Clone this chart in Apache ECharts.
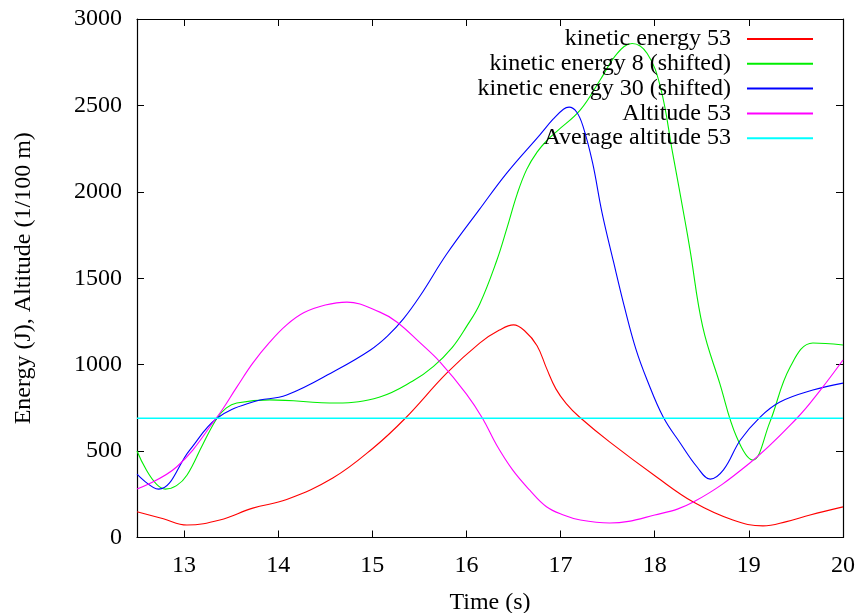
<!DOCTYPE html>
<html>
<head>
<meta charset="utf-8">
<title>Energy and altitude over time</title>
<script src="https://cdn.jsdelivr.net/npm/echarts@6/dist/echarts.min.js"></script>
<style>
  html, body { margin: 0; padding: 0; background: #ffffff; }
  #chart { width: 862px; height: 613px; }
</style>
</head>
<body>
<div id="chart"></div>
<script>
// Tick positions
const xTicks = [13, 14, 15, 16, 17, 18, 19, 20];

// kinetic energy 53
const ke53T = [12.5, 12.78, 13.03, 13.38, 13.73, 14.09, 14.58, 15.01, 15.35, 15.79, 16.14, 16.35, 16.5, 16.62, 16.75, 16.85, 16.95, 17.06, 17.2, 17.52, 18.02, 18.41, 18.83, 19.15, 19.4, 19.65, 20.0];
const ke53V = [149, 108, 72, 101, 170, 220, 344, 518, 690, 951, 1125, 1200, 1230, 1195, 1110, 980, 860, 775, 697, 553, 350, 205, 101, 67, 92, 130, 177];

// kinetic energy 8 (shifted)
const ke8T = [12.5, 12.8, 12.92, 13.03, 13.2, 13.35, 13.45, 13.56, 13.91, 14.62, 15.08, 15.43, 15.65, 15.85, 16.0, 16.14, 16.32, 16.43, 16.54, 16.64, 16.75, 16.86, 16.96, 17.21, 17.42, 17.6, 17.76, 17.92, 18.06, 18.19, 18.32, 18.375, 18.51, 18.69, 18.87, 19.04, 19.22, 19.44, 19.68, 20.0];
const ke8V = [500, 280, 300, 360, 540, 690, 750, 778, 796, 778, 813, 905, 990, 1100, 1220, 1350, 1600, 1790, 1990, 2130, 2230, 2300, 2350, 2474, 2647, 2800, 2858, 2800, 2607, 2225, 1837, 1664, 1218, 893, 581, 448, 663, 988, 1125, 1114];

// kinetic energy 30 (shifted)
const ke30T = [12.5, 12.73, 13.06, 13.35, 13.73, 14.09, 14.62, 14.98, 15.16, 15.33, 15.51, 15.79, 16.14, 16.43, 16.78, 16.92, 17.03, 17.09, 17.17, 17.24, 17.34, 17.44, 17.56, 17.68, 17.8, 17.92, 18.09, 18.27, 18.45, 18.59, 18.73, 18.91, 19.12, 19.33, 19.68, 20.0];
const ke30V = [367, 280, 506, 690, 784, 824, 969, 1085, 1165, 1265, 1400, 1640, 1900, 2110, 2330, 2420, 2478, 2490, 2462, 2376, 2167, 1880, 1600, 1330, 1090, 910, 697, 547, 408, 338, 391, 564, 697, 784, 853, 893];

// Altitude 53
const altT = [12.5, 12.92, 13.35, 13.56, 13.73, 13.91, 14.09, 14.27, 14.5, 14.73, 15.08, 15.26, 15.5, 15.72, 16.0, 16.17, 16.32, 16.49, 16.67, 16.85, 17.03, 17.21, 17.52, 18.0, 18.41, 19.01, 19.51, 19.76, 20.0];
const altV = [281, 408, 697, 870, 1009, 1130, 1230, 1300, 1345, 1362, 1304, 1247, 1130, 1015, 830, 690, 535, 391, 275, 178, 130, 101, 84, 130, 205, 431, 690, 853, 1027];

// Average altitude 53
const avgT = [12.5, 20.0];
const avgV = [690, 690];

const names = [
  'kinetic energy 53',
  'kinetic energy 8 (shifted)',
  'kinetic energy 30 (shifted)',
  'Altitude 53',
  'Average altitude 53'
];
const colors = ['#ff0000', '#00ee00', '#0000ff', '#ff00ff', '#00ffff'];

function pairs(ts, vs) {
  return ts.map((t, i) => [t, vs[i]]);
}

const FONT = 'Liberation Serif';
const FS = 24;
const seriesData = [
  pairs(ke53T, ke53V),
  pairs(ke8T, ke8V),
  pairs(ke30T, ke30V),
  pairs(altT, altV),
  pairs(avgT, avgV)
];

const chart = echarts.init(document.getElementById('chart'), null, { renderer: 'canvas' });

const tickInside = { show: true, inside: true, length: 7, lineStyle: { color: '#000', width: 1 } };
const axisLine = { show: true, onZero: false, lineStyle: { color: '#000', width: 1.2 } };

chart.setOption({
  animation: false,
  backgroundColor: '#ffffff',
  textStyle: { fontFamily: FONT },
  grid: { left: 137, right: 19, top: 19, bottom: 75.5, containLabel: false, outerBoundsMode: 'none' },
  legend: {
    data: names,
    orient: 'vertical',
    align: 'right',
    right: 49,
    top: 27,
    itemGap: 0.8,
    itemWidth: 66,
    itemHeight: 2,
    icon: 'rect',
    padding: 0,
    selectedMode: false,
    textStyle: { fontFamily: FONT, fontSize: FS, color: '#000', lineHeight: 24, padding: [0, 11, 0, 0] }
  },
  xAxis: [
    {
      type: 'value', position: 'bottom', min: 12.5, max: 20,
      name: 'Time (s)', nameLocation: 'middle', nameGap: 53,
      nameTextStyle: { fontFamily: FONT, fontSize: FS, color: '#000' },
      axisLine: axisLine,
      axisTick: Object.assign({}, tickInside, { customValues: xTicks }),
      axisLabel: { customValues: xTicks, fontFamily: FONT, fontSize: FS, color: '#000', margin: 16 },
      splitLine: { show: false }
    },
    {
      type: 'value', position: 'top', min: 12.5, max: 20,
      axisLine: axisLine,
      axisTick: Object.assign({}, tickInside, { customValues: xTicks }),
      axisLabel: { show: false },
      splitLine: { show: false }
    }
  ],
  yAxis: [
    {
      type: 'value', position: 'left', min: 0, max: 3000, interval: 500,
      name: 'Energy (J), Altitude (1/100 m)', nameLocation: 'middle', nameGap: 101,
      nameTextStyle: { fontFamily: FONT, fontSize: FS, color: '#000' },
      axisLine: axisLine,
      axisTick: tickInside,
      axisLabel: { fontFamily: FONT, fontSize: FS, color: '#000', margin: 15, formatter: v => String(v) },
      splitLine: { show: false }
    },
    {
      type: 'value', position: 'right', min: 0, max: 3000, interval: 500,
      axisLine: axisLine,
      axisTick: tickInside,
      axisLabel: { show: false },
      splitLine: { show: false }
    }
  ],
  series: names.map((n, i) => ({
    name: n,
    type: 'line',
    xAxisIndex: 0,
    yAxisIndex: 0,
    data: seriesData[i],
    smooth: i === 4 ? false : 0.4,
    showSymbol: false,
    symbol: 'none',
    color: colors[i],
    lineStyle: { color: colors[i], width: i === 4 ? 1.6 : 1.1 },
    emphasis: { disabled: true },
    z: 2 + i
  }))
});
</script>
</body>
</html>
